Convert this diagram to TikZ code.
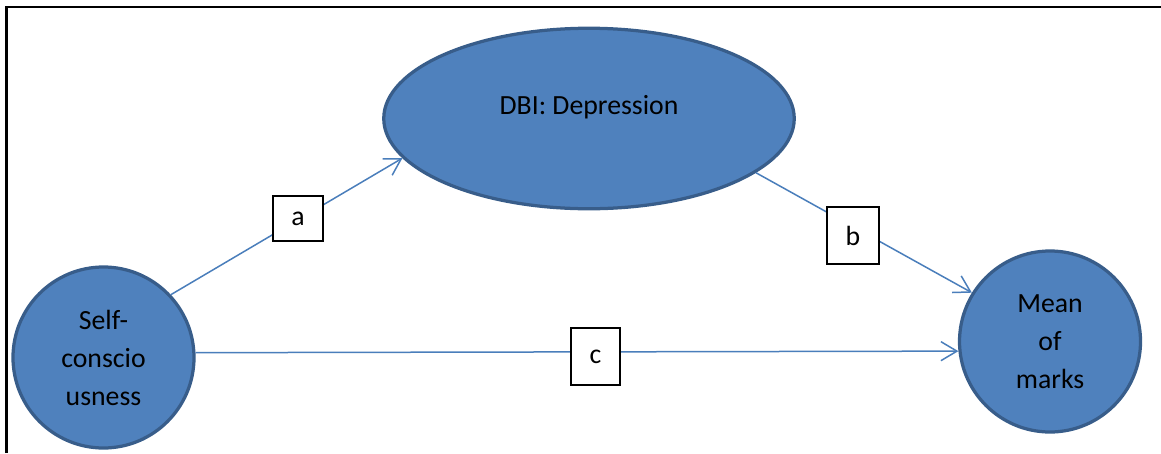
\documentclass[tikz,border=0pt]{standalone}
\usepackage{fontspec}
\setmainfont{Carlito}
\usetikzlibrary{shapes.geometric,arrows.meta}
\definecolor{fillblue}{HTML}{4F81BD}
\definecolor{edgeblue}{HTML}{385D8A}
\definecolor{lineblue}{HTML}{4A7EBB}

\begin{document}
\begin{tikzpicture}[
    var/.style={draw=edgeblue, line width=0.065cm, fill=fillblue, font=\fontsize{15.8}{21.6}\selectfont, align=center},
    link/.style={->, lineblue, line width=0.03cm},
    lbl/.style={draw, fill=white, line width=0.03cm, font=\fontsize{15.8}{21.6}\selectfont, inner sep=0pt},
    >={Straight Barb[length=3.2mm,width=3.8mm]}
]
\useasboundingbox (0,0) rectangle (23.22,-9.06);
\draw[line width=0.045cm] (0.13,-9.06) -- (0.13,-0.14) -- (23.22,-0.14);

\node[var, circle, minimum size=3.62cm] (self) at (2.07,-7.15) {Self-\\conscio\\usness};
\node[var, circle, minimum size=3.62cm] (mean) at (21.0,-6.83) {Mean\\of\\marks};
\node[var, ellipse, minimum width=8.21cm, minimum height=3.61cm, text height=0.4cm, text depth=0.57cm] (dbi) at (11.78,-2.37) {DBI: Depression};

\draw[link] (self.43) -- (dbi.192);
\draw[link] (dbi.-18) -- (mean.148);
\draw[link] (self.3) -- (mean.186);

\node[lbl, minimum width=1.0cm, minimum height=0.9cm] (a) at (5.96,-4.37) {a};
\node[lbl, minimum width=1.04cm, minimum height=1.14cm] (b) at (17.06,-4.71) {b};
\node[lbl, minimum width=0.98cm, minimum height=1.14cm] (c) at (11.91,-7.13) {c};
\end{tikzpicture}
\end{document}
